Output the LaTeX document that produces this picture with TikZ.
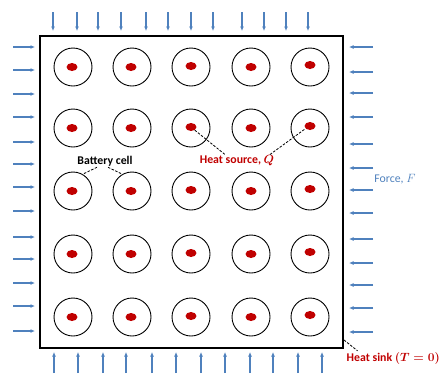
\documentclass[tikz,border=0pt]{standalone}
\usepackage{amsmath}
\usepackage{fontspec}
\setmainfont{Carlito}
\usetikzlibrary{arrows.meta,shapes.geometric}
\definecolor{arrowblue}{RGB}{79,129,189}
\definecolor{heatred}{RGB}{192,0,0}
\begin{document}
\begin{tikzpicture}[x=1pt,y=-1pt,
  force/.style={draw=arrowblue,line width=1.2pt,-{Latex[length=4.5pt,width=4pt]}},
  cell/.style={circle,draw=black,line width=0.9pt,minimum size=38pt,inner sep=0pt},
  src/.style={ellipse,fill=heatred,minimum width=11pt,minimum height=8pt,inner sep=0pt},
  lead/.style={draw=black,line width=0.8pt,dash pattern=on 2.5pt off 1.5pt},
  lab/.style={font=\fontsize{11.8}{13}\selectfont\bfseries,inner sep=1pt}]
\useasboundingbox (0,0) rectangle (441,373);
% box
\draw[line width=1.4pt] (40,36) rectangle (343,348);
\coordinate (corner) at (344,340);
% cells
\foreach \c/\x in {1/73,2/132,3/191,4/251,5/310}{
  \foreach \r/\y in {1/67,2/128,3/191,4/254,5/317}{
    \node[cell] (c\c\r) at (\x,\y) {};
  }
}
\foreach \c/\x/\dy in {1/72/0,2/131/0,3/191/-1,4/251/0,5/310/-2}{
  \foreach \r/\y in {1/67,2/128,3/191,4/254,5/317}{
    \node[src] (d\c\r) at (\x,\y+\dy) {};
  }
}
% top arrows
\foreach \x [count=\i] in {53,77,98,121,146,168,191,213,242,264,286,308}{
  \coordinate (ts\i) at (\x,12);
  \coordinate (te\i) at (\x,31);
  \draw[force] (ts\i) -- (te\i);
}
% bottom arrows
\foreach \x [count=\i] in {54,78,103,126,152,176,201,225,250,273,298,322}{
  \coordinate (bs\i) at (\x,373);
  \coordinate (be\i) at (\x,352);
  \draw[force] (bs\i) -- (be\i);
}
% left arrows
\foreach \y [count=\i] in {47,70,94,117,142,164,187,211,237,259,283,306,331}{
  \coordinate (ls\i) at (13,\y);
  \coordinate (le\i) at (35,\y);
  \draw[force] (ls\i) -- (le\i);
}
% right arrows
\foreach \y [count=\i] in {47,72,93,117,144,168,190,213,239,263,285,308,332}{
  \coordinate (rs\i) at (373,\y);
  \coordinate (re\i) at (349,\y);
  \draw[force] (rs\i) -- (re\i);
}
% labels
\node[lab] (bat) at (105,161) {Battery cell};
\node[lab,text=heatred] (hs) at (237,161) {Heat source, $\boldsymbol{Q}$};
\node[font=\fontsize{11.8}{13}\selectfont,text=arrowblue,inner sep=1pt] (force) at (395,179) {Force, $F$};
\node[lab,text=heatred,anchor=east] (sink) at (441,358) {Heat sink $\boldsymbol{(T=0)}$};
% leaders
\draw[lead] ([xshift=-8pt]bat.south) -- (c13.60);
\draw[lead] ([xshift=3pt]bat.south) -- (c23.120);
\draw[lead] (d32.-40) -- ([xshift=-12pt]hs.north);
\draw[lead] ([xshift=33pt]hs.north) -- (d52.210);
\draw[lead] (corner) -- ([xshift=12pt]sink.north west);
\end{tikzpicture}
\end{document}
